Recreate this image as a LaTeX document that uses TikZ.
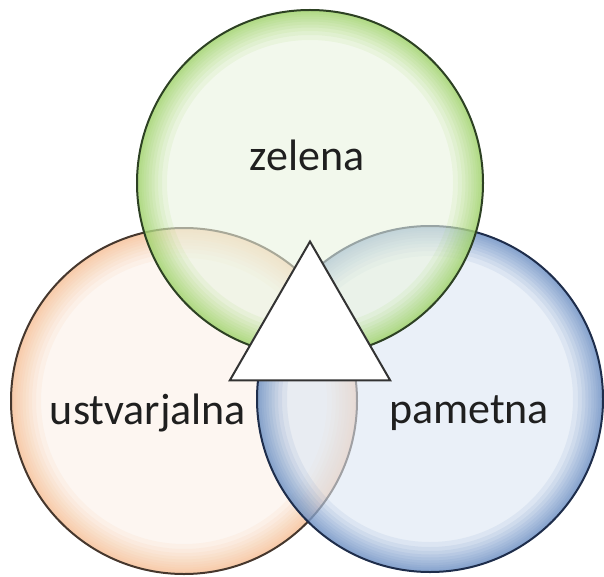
\documentclass[tikz,border=0pt]{standalone}
\usepackage{fontspec}
\setmainfont{Carlito}
\usetikzlibrary{shapes}

\definecolor{greenin}{RGB}{234,244,224}
\definecolor{greenrim}{RGB}{140,204,74}
\definecolor{greenline}{RGB}{45,65,35}
\definecolor{orangein}{RGB}{251,240,232}
\definecolor{orangerim}{RGB}{246,180,130}
\definecolor{orangeline}{RGB}{70,55,45}
\definecolor{bluein}{RGB}{220,230,243}
\definecolor{bluerim}{RGB}{80,122,184}
\definecolor{blueline}{RGB}{30,45,75}

\begin{document}
\begin{tikzpicture}[x=1pt,y=-1pt]
   \tikzset{Ring/.style={circle,inner sep=0pt,minimum size=346pt,line width=2pt,
      fill=#1in,fill opacity=0.6,draw=#1line,
      path picture={\foreach \w in {60,50,42,35,29,23,18,13,9,5}
         \draw[#1rim,line width=\w pt,draw opacity=0.09] (path picture bounding box.center) circle (173);}}}
   \tikzset{Word/.style={font=\fontsize{44}{52}\selectfont,text=black!88}}
   \useasboundingbox (0,0) rectangle (604,577);
   \node[Ring=orange] (ustvarjalna) at (184,401) {};
   \node[Ring=blue] (pametna) at (430,399) {};
   \node[Ring=green] (zelena) at (310,183) {};
   \node[regular polygon,regular polygon sides=3,inner sep=0pt,minimum size=185pt,
         fill=white,draw=black!80,line width=2pt] (tri) at (310,334) {};
   \node[Word] (lzelena) at (307,155) {zelena};
   \node[Word] (lustvarjalna) at (148,413) {ustvarjalna};
   \node[Word] (lpametna) at (469,413) {pametna};
\end{tikzpicture}
\end{document}
